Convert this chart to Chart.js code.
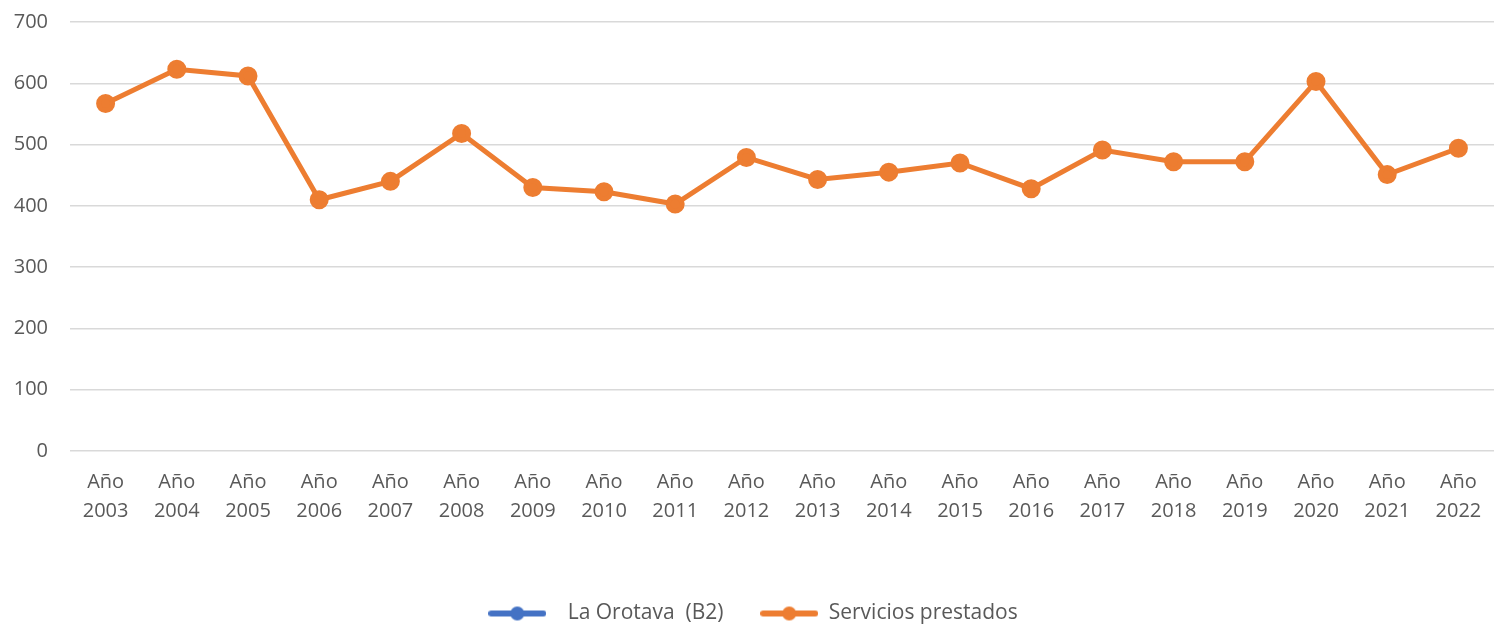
<!DOCTYPE html>
<html>
<head>
<meta charset="utf-8">
<script src="https://cdn.jsdelivr.net/npm/chart.js@4/dist/chart.umd.min.js"></script>
<style>
  html, body { margin: 0; padding: 0; background: #fff; }
  #wrap { width: 1506px; height: 624px; }
</style>
</head>
<body>
<div id="wrap"><canvas id="myChart"></canvas></div>
<script>
const years = ['2003','2004','2005','2006','2007','2008','2009','2010','2011','2012',
  '2013','2014','2015','2016','2017','2018','2019','2020','2021','2022']
const laOrotava = [null,null,null,null,null,null,null,null,null,null,
  null,null,null,null,null,null,null,null,null,null]
const servicios = [567,623,612,410,440,518,430,423,403,479,
  443,455,470,428,491,472,472,603,451,494]
const yTicks = [0,100,200,300,400,500,600,700]

const BLUE = '#4472C4'
const ORANGE = '#ED7D31'

// little line+dot picture used as legend marker
function legendMark(color){
  const c = document.createElement('canvas')
  c.width = 58; c.height = 16
  const g = c.getContext('2d')
  g.strokeStyle = color
  g.lineWidth = 6
  g.lineCap = 'round'
  g.beginPath(); g.moveTo(3,8); g.lineTo(55,8); g.stroke()
  g.fillStyle = color
  g.beginPath(); g.arc(29,8,7,0,Math.PI*2); g.fill()
  return c
}

Chart.defaults.font.family = "'Open Sans', 'DejaVu Sans', sans-serif"
Chart.defaults.color = '#595959'

const ctx = document.querySelector('#myChart')
new Chart(ctx,{
  type: 'line',
  data: {
    labels: years.map(y => ['Año', y]),
    datasets: [
      {
        label: '  La Orotava  (B2)      ',
        data: laOrotava,
        borderColor: BLUE,
        backgroundColor: BLUE,
        borderWidth: 5,
        pointRadius: 7,
        mark: legendMark(BLUE)
      },
      {
        label: 'Servicios prestados',
        data: servicios,
        borderColor: ORANGE,
        backgroundColor: ORANGE,
        borderWidth: 5,
        pointRadius: 7,
        pointHoverRadius: 7,
        tension: 0,
        mark: legendMark(ORANGE)
      }
    ]
  },
  options: {
    responsive: true,
    maintainAspectRatio: false,
    animation: false,
    layout: { padding: { top: 22, right: 0, bottom: -10, left: 0 } },
    plugins: {
      tooltip: { enabled: false },
      legend: {
        position: 'bottom',
        labels: {
          usePointStyle: true,
          pointStyleWidth: 58,
          padding: 4,
          font: { size: 21 },
          color: '#595959',
          generateLabels(chart){
            const items = Chart.defaults.plugins.legend.labels.generateLabels(chart)
            items.forEach(it => { it.pointStyle = chart.data.datasets[it.datasetIndex].mark })
            return items
          }
        }
      }
    },
    scales: {
      x: {
        offset: true,
        grid: { display: false, drawTicks: false },
        border: { display: false },
        ticks: {
          padding: 17,
          maxRotation: 0,
          autoSkip: false,
          font: { size: 20, lineHeight: 1.45 },
          color: '#595959'
        },
        afterFit(scale){
          scale.height = 148
          scale.paddingLeft = 0
          scale.paddingRight = 0
        }
      },
      y: {
        min: 0,
        max: 700,
        afterBuildTicks(scale){ scale.ticks = yTicks.map(v => ({ value: v })) },
        grid: { color: '#D9D9D9', lineWidth: 1.5, drawTicks: false },
        border: { display: false },
        ticks: {
          padding: 22,
          font: { size: 20 },
          color: '#595959'
        },
        afterFit(scale){
          scale.width = 70
          scale.paddingTop = 0
          scale.paddingBottom = 0
        }
      }
    }
  }
})
</script>
</body>
</html>
